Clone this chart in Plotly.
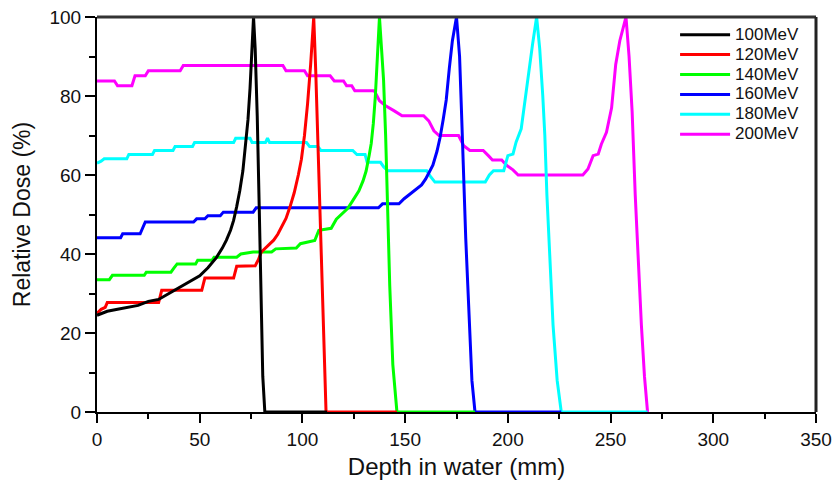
import plotly.graph_objects as go

# ---- data ----
x_100 = [0, 5, 10, 15, 20, 25, 30, 35, 40, 45, 50, 54, 58, 61, 63, 65, 66.5, 68, 69.5, 71,
         72, 73.5, 74.5, 75.3, 76.2, 77, 78, 79, 80, 80.7, 81.7, 112]
y_100 = [24.5, 25.5, 26, 26.5, 27, 28, 28.5, 30, 31.5, 33, 34.5, 36.5, 39, 41.5, 43.5, 46, 48.5, 52, 56, 61,
         66, 74, 82, 91, 100, 92, 75, 51, 26, 9, 0, 0]

x_120 = [0, 2, 4, 5, 30, 31.5, 51, 52.5, 66.5, 68, 77, 78.5, 80, 83, 86, 88, 90, 92, 94, 96,
         98, 99.5, 101, 102.5, 104, 105.5, 106.5, 107.5, 108.5, 109.5, 110.5, 111.5, 146]
y_120 = [25, 26, 26.5, 27.7, 27.7, 30.8, 30.8, 33.9, 33.9, 36.9, 37, 38.5, 40.5, 42, 43.5, 45, 47, 49, 52, 55.5,
         60, 64, 70, 78, 88, 100, 86, 68, 48, 30, 12, 0, 0]

x_140 = [0, 6, 7.5, 23, 24, 36, 37.5, 39, 48, 49, 56, 57, 68, 70, 76, 85, 87, 97, 99, 106,
         108, 114, 116.5, 119, 122, 124.5, 127.5, 129.5, 131, 132.5, 133.5, 134.5, 135.5, 136.5, 137.5,
         138.5, 139.5, 140.5, 141.5, 142.5, 144, 146, 184]
y_140 = [33.5, 33.5, 34.6, 34.6, 35.4, 35.4, 36.5, 37.5, 37.5, 38.4, 38.4, 39.2, 39.2, 40, 40.5, 40.5, 41.3, 41.5, 42.6, 43.4,
         46, 46.5, 48.8, 50, 51.5, 53.5, 56, 58.5, 61, 65, 68, 73, 80, 90, 100,
         92, 84, 70, 52, 32, 12, 0, 0]

x_160 = [0, 11.5, 12.5, 21, 23.5, 47, 48.5, 52.5, 54, 60, 61.5, 76, 77.5, 137, 139, 147, 149.5, 152, 155, 158,
         160, 162, 163.5, 165.5, 167, 168.5, 170, 171.5, 173, 175, 176.5, 177.5, 178.5, 179.5, 180.5, 181.5,
         182.5, 184, 226]
y_160 = [44.1, 44.1, 45.1, 45.1, 48.1, 48.1, 48.9, 48.9, 49.7, 49.7, 50.6, 50.6, 51.7, 51.7, 52.7, 52.7, 54, 55, 56.2, 57.5,
         59, 61, 62.5, 66, 69.5, 74, 79, 87, 94, 100, 90, 75, 58, 44, 32, 20,
         8, 0, 0]

x_180 = [0, 2, 3.5, 14.5, 15.5, 27, 28, 37, 38, 46.5, 47.5, 66.5, 67.5, 74.5, 75.5, 82, 83, 84, 85, 102,
         103.5, 107.5, 109, 124.5, 126.5, 130.5, 131.5, 138, 139.5, 141.5, 142.5, 160.5, 162.5, 164.5, 165.5,
         189, 191, 193, 198, 200, 202.5, 204, 206.5, 208.5, 210, 212, 214, 215.5, 217, 218, 219, 220.5, 222,
         224, 226, 268]
y_180 = [63, 63.5, 64.1, 64.1, 65.2, 65.2, 66.2, 66.2, 67.2, 67.2, 68.2, 68.2, 69.3, 69.3, 68.2, 68.2, 69.3, 68.2, 68.2, 68.2,
         67.2, 67.2, 66.2, 66.2, 65.2, 65.2, 63.2, 63.2, 62.1, 61.1, 61.1, 61.1, 59.5, 58.2, 58.2,
         58.2, 60, 61.1, 61.1, 64.9, 65.3, 68.3, 71.7, 80, 86, 93, 100, 92, 80, 70, 55, 38, 22,
         8, 0, 0]

x_200 = [0, 8.5, 10, 17, 18.5, 23.5, 25, 40.5, 42, 90.5, 92, 101, 102.5, 113.5, 115.5, 120, 121.5, 124, 125.5, 135,
         137.5, 140.5, 144.5, 148.5, 159, 161.5, 164, 166.5, 176, 178.5, 181.5, 188, 190.5, 192.5, 197, 199.5,
         202.5, 205, 236.5, 239, 241.5, 244, 245.5, 248, 250.5, 252.5, 254.5, 257.5, 259, 260.5, 262, 263.5,
         265, 266.5, 268]
y_200 = [83.8, 83.8, 82.6, 82.6, 85.1, 85.1, 86.4, 86.4, 87.7, 87.7, 86.4, 86.4, 85.1, 85.1, 83.8, 83.8, 82.6, 82.6, 81.3, 81.3,
         78.8, 77.5, 76.3, 75, 75, 73.7, 71.2, 70, 70, 67.4, 66.2, 66.2, 64.9, 63.8, 63.8, 62.4,
         61.3, 60, 60, 61.5, 64.9, 65.3, 67.8, 70.8, 77, 88, 94, 100, 90, 76, 55, 38,
         22, 9, 0]

names = ["100MeV", "120MeV", "140MeV", "160MeV", "180MeV", "200MeV"]
xs = [x_100, x_120, x_140, x_160, x_180, x_200]
ys = [y_100, y_120, y_140, y_160, y_180, y_200]
colors = ["#000000", "#ff0000", "#00ff00", "#0000ff", "#00ffff", "#ff00ff"]

FONT = "Arial, Liberation Sans, sans-serif"

fig = go.Figure()
# draw the highest energy first so that lower energies lie on top
for name, x, y, c in reversed(list(zip(names, xs, ys, colors))):
    fig.add_trace(go.Scatter(
        x=x, y=y, mode="lines",
        name='<span style="font-size:17px">' + name + '</span>',
        line=dict(color=c, width=3),
    ))

fig.update_layout(
    width=838, height=480,
    margin=dict(l=97, r=22, t=17, b=68),
    paper_bgcolor="white", plot_bgcolor="white",
    font=dict(family=FONT, color="#111111"),
    showlegend=True,
    legend=dict(
        x=0.804, y=0.993, xanchor="left", yanchor="top",
        traceorder="reversed",
        font=dict(family=FONT, size=13, color="#111111"),
        bgcolor="rgba(0,0,0,0)", borderwidth=0,
        itemwidth=50,
    ),
    # plot frame (top and right border of the box)
    shapes=[
        dict(type="line", xref="x domain", yref="y domain", x0=0, x1=1, y0=1, y1=1,
             line=dict(color="#333333", width=3), layer="above"),
        dict(type="line", xref="x domain", yref="y domain", x0=1, x1=1, y0=0, y1=1,
             line=dict(color="#222222", width=3), layer="above"),
    ],
    xaxis=dict(
        range=[0, 350], dtick=50, tick0=0, automargin=False,
        ticks="outside", ticklen=9, tickwidth=1.5, tickcolor="black",
        minor=dict(dtick=25, ticks="outside", ticklen=5, tickwidth=1.5, tickcolor="black"),
        showline=True, linewidth=2, linecolor="black",
        showgrid=False, zeroline=False,
        tickfont=dict(size=19, family=FONT, color="#111111"),
        title=dict(text="Depth in water (mm)", font=dict(size=24, family=FONT, color="#111111"), standoff=10),
    ),
    yaxis=dict(
        range=[0, 100], dtick=20, tick0=0, automargin=False,
        ticks="outside", ticklen=10, tickwidth=1.5, tickcolor="black",
        minor=dict(dtick=10, ticks="outside", ticklen=6, tickwidth=1.5, tickcolor="black"),
        showline=True, linewidth=2, linecolor="black",
        showgrid=False, zeroline=False,
        tickfont=dict(size=19, family=FONT, color="#111111"),
        title=dict(text="Relative Dose (%)", font=dict(size=23, family=FONT, color="#111111"), standoff=12),
    ),
)

fig.write_html("out.html")
